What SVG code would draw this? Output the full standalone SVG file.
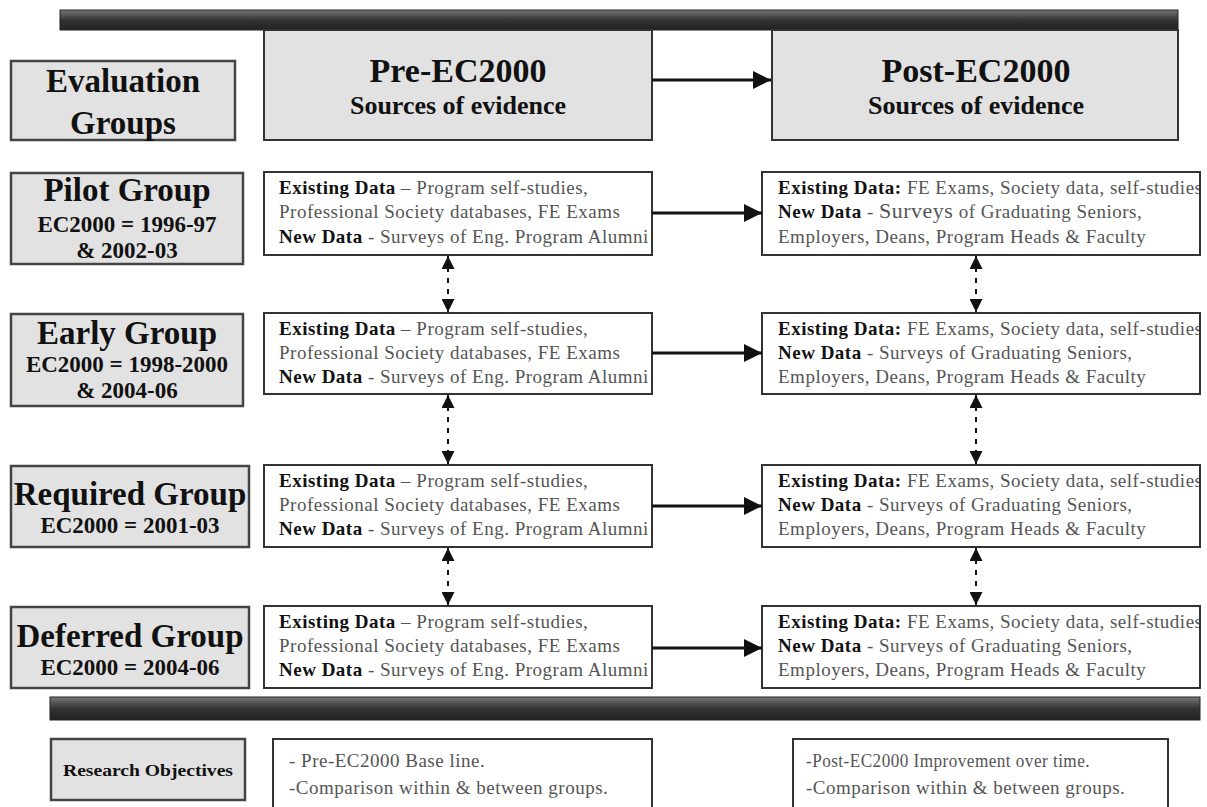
<svg xmlns="http://www.w3.org/2000/svg" width="1207" height="807" viewBox="0 0 1207 807">
<style>
.bar{fill:url(#barg);stroke:#222;stroke-width:1}
.hdr{fill:#e2e2e2;stroke:#333;stroke-width:2}
.grp{fill:#e2e2e2;stroke:#444;stroke-width:2.5}
.dat{fill:#fff;stroke:#333;stroke-width:2}
.t{font-family:"Liberation Serif","Times New Roman",serif;}
.b{font-weight:bold;fill:#111}
.r{fill:#555}
.ttl{font-size:34px;text-anchor:middle}
.sub{font-size:26px;text-anchor:middle}
.gt{font-size:33px;text-anchor:middle}
.gs{font-size:23px;text-anchor:middle}
.d{font-size:19px;letter-spacing:0.5px}
.o{font-size:19px;letter-spacing:0.5px}
.solid{stroke:#111;stroke-width:3;fill:none}
.dash{stroke:#111;stroke-width:2;fill:none;stroke-dasharray:5,6}
</style>
<defs>
<linearGradient id="barg" x1="0" y1="0" x2="0" y2="1">
<stop offset="0" stop-color="#777"/>
<stop offset="0.5" stop-color="#333"/>
<stop offset="1" stop-color="#222"/>
</linearGradient>
<marker id="ah" viewBox="0 0 10 10" refX="10" refY="5" markerWidth="7" markerHeight="6" markerUnits="strokeWidth" orient="auto">
<path d="M0,0 L10,5 L0,10 z" fill="#111"/>
</marker>
<marker id="sh" viewBox="0 0 10 10" refX="10" refY="5" markerWidth="6.5" markerHeight="6.5" markerUnits="strokeWidth" orient="auto-start-reverse">
<path d="M0,0 L10,5 L0,10 z" fill="#111"/>
</marker>
<clipPath id="cpre"><rect x="264" y="0" width="386" height="807"/></clipPath>
<clipPath id="cpost"><rect x="762" y="0" width="437" height="807"/></clipPath>
</defs>

<g id="bars">
<rect class="bar" x="60" y="10" width="1118" height="20"/>
<rect class="bar" x="50" y="697" width="1150" height="23"/>
</g>

<g id="hdr-eval">
<rect class="grp" x="11" y="61" width="224" height="79"/>
<text class="t b gt" x="123" y="92" font-size="31">Evaluation</text>
<text class="t b gt" x="123" y="134" font-size="31">Groups</text>
</g>
<g id="hdr-pre">
<rect class="hdr" x="264" y="30" width="388" height="110"/>
<text class="t b ttl" x="458" y="82">Pre-EC2000</text>
<text class="t b sub" x="458" y="114">Sources of evidence</text>
</g>
<g id="hdr-post">
<rect class="hdr" x="772" y="30" width="406" height="110"/>
<text class="t b ttl" x="976" y="82">Post-EC2000</text>
<text class="t b sub" x="976" y="114">Sources of evidence</text>
</g>

<g id="pilot">
<rect class="grp" x="11" y="173" width="232" height="91"/>
<text class="t b gt" x="127" y="201">Pilot Group</text>
<text class="t b gs" x="127" y="232">EC2000 = 1996-97</text>
<text class="t b gs" x="127" y="258">&amp; 2002-03</text>
</g>
<g id="early">
<rect class="grp" x="11" y="314" width="232" height="92"/>
<text class="t b gt" x="127" y="344">Early Group</text>
<text class="t b gs" x="127" y="372">EC2000 = 1998-2000</text>
<text class="t b gs" x="127" y="398">&amp; 2004-06</text>
</g>
<g id="required">
<rect class="grp" x="11" y="466" width="238" height="81"/>
<text class="t b gt" x="130" y="505">Required Group</text>
<text class="t b gs" x="130" y="533">EC2000 = 2001-03</text>
</g>
<g id="deferred">
<rect class="grp" x="11" y="607" width="238" height="81"/>
<text class="t b gt" x="130" y="647">Deferred Group</text>
<text class="t b gs" x="130" y="675">EC2000 = 2004-06</text>
</g>

<g id="pre1">
<rect class="dat" x="264" y="172" width="388" height="83"/>
<text class="t d" clip-path="url(#cpre)"><tspan x="279" y="194"><tspan class="b">Existing Data</tspan><tspan class="r"> – Program self-studies,</tspan></tspan><tspan class="r" x="279" y="218">Professional Society databases, FE Exams</tspan><tspan x="279" y="243"><tspan class="b">New Data</tspan><tspan class="r"> - Surveys of Eng. Program Alumni</tspan></tspan></text>
</g>
<g id="post1">
<rect class="dat" x="762" y="172" width="438" height="83"/>
<text class="t d" clip-path="url(#cpost)"><tspan x="778" y="194"><tspan class="b">Existing Data:</tspan><tspan class="r"> FE Exams, Society data, self-studies</tspan></tspan><tspan x="778" y="218"><tspan class="b">New Data</tspan><tspan class="r"> - <tspan font-size="22px">Surveys</tspan> of Graduating Seniors,</tspan></tspan><tspan class="r" x="778" y="243">Employers, Deans, Program Heads &amp; Faculty</tspan></text>
</g>

<g id="pre2">
<rect class="dat" x="264" y="313" width="388" height="81"/>
<text class="t d" clip-path="url(#cpre)"><tspan x="279" y="335"><tspan class="b">Existing Data</tspan><tspan class="r"> – Program self-studies,</tspan></tspan><tspan class="r" x="279" y="359">Professional Society databases, FE Exams</tspan><tspan x="279" y="383"><tspan class="b">New Data</tspan><tspan class="r"> - Surveys of Eng. Program Alumni</tspan></tspan></text>
</g>
<g id="post2">
<rect class="dat" x="762" y="313" width="438" height="81"/>
<text class="t d" clip-path="url(#cpost)"><tspan x="778" y="335"><tspan class="b">Existing Data:</tspan><tspan class="r"> FE Exams, Society data, self-studies</tspan></tspan><tspan x="778" y="359"><tspan class="b">New Data</tspan><tspan class="r"> - Surveys of Graduating Seniors,</tspan></tspan><tspan class="r" x="778" y="383">Employers, Deans, Program Heads &amp; Faculty</tspan></text>
</g>

<g id="pre3">
<rect class="dat" x="264" y="465" width="388" height="82"/>
<text class="t d" clip-path="url(#cpre)"><tspan x="279" y="487"><tspan class="b">Existing Data</tspan><tspan class="r"> – Program self-studies,</tspan></tspan><tspan class="r" x="279" y="511">Professional Society databases, FE Exams</tspan><tspan x="279" y="535"><tspan class="b">New Data</tspan><tspan class="r"> - Surveys of Eng. Program Alumni</tspan></tspan></text>
</g>
<g id="post3">
<rect class="dat" x="762" y="465" width="438" height="82"/>
<text class="t d" clip-path="url(#cpost)"><tspan x="778" y="487"><tspan class="b">Existing Data:</tspan><tspan class="r"> FE Exams, Society data, self-studies</tspan></tspan><tspan x="778" y="511"><tspan class="b">New Data</tspan><tspan class="r"> - Surveys of Graduating Seniors,</tspan></tspan><tspan class="r" x="778" y="535">Employers, Deans, Program Heads &amp; Faculty</tspan></text>
</g>

<g id="pre4">
<rect class="dat" x="264" y="606" width="388" height="82"/>
<text class="t d" clip-path="url(#cpre)"><tspan x="279" y="628"><tspan class="b">Existing Data</tspan><tspan class="r"> – Program self-studies,</tspan></tspan><tspan class="r" x="279" y="652">Professional Society databases, FE Exams</tspan><tspan x="279" y="676"><tspan class="b">New Data</tspan><tspan class="r"> - Surveys of Eng. Program Alumni</tspan></tspan></text>
</g>
<g id="post4">
<rect class="dat" x="762" y="606" width="438" height="82"/>
<text class="t d" clip-path="url(#cpost)"><tspan x="778" y="628"><tspan class="b">Existing Data:</tspan><tspan class="r"> FE Exams, Society data, self-studies</tspan></tspan><tspan x="778" y="652"><tspan class="b">New Data</tspan><tspan class="r"> - Surveys of Graduating Seniors,</tspan></tspan><tspan class="r" x="778" y="676">Employers, Deans, Program Heads &amp; Faculty</tspan></text>
</g>

<g id="research">
<rect class="grp" x="51" y="739" width="194" height="61"/>
<text class="t b" x="148" y="776" font-size="17" text-anchor="middle" textLength="170" lengthAdjust="spacingAndGlyphs">Research Objectives</text>
</g>
<g id="obj-pre">
<rect class="dat" x="273" y="739" width="379" height="75"/>
<text class="t r o"><tspan x="289" y="767">- Pre-EC2000 Base line.</tspan><tspan x="289" y="794">-Comparison within &amp; between groups.</tspan></text>
</g>
<g id="obj-post">
<rect class="dat" x="793" y="739" width="375" height="75"/>
<text class="t r o"><tspan x="806" y="767" textLength="284" lengthAdjust="spacingAndGlyphs">-Post-EC2000 Improvement over time.</tspan><tspan x="806" y="794">-Comparison within &amp; between groups.</tspan></text>
</g>

<g id="connectors">
<line class="solid" x1="652" y1="80" x2="771" y2="80" marker-end="url(#ah)"/>
<line class="solid" x1="652" y1="213" x2="762" y2="213" marker-end="url(#ah)"/>
<line class="solid" x1="652" y1="353" x2="762" y2="353" marker-end="url(#ah)"/>
<line class="solid" x1="652" y1="506" x2="762" y2="506" marker-end="url(#ah)"/>
<line class="solid" x1="652" y1="648" x2="762" y2="648" marker-end="url(#ah)"/>
<line class="dash" x1="448" y1="256" x2="448" y2="312" marker-start="url(#sh)" marker-end="url(#sh)"/>
<line class="dash" x1="448" y1="395" x2="448" y2="464" marker-start="url(#sh)" marker-end="url(#sh)"/>
<line class="dash" x1="448" y1="548" x2="448" y2="605" marker-start="url(#sh)" marker-end="url(#sh)"/>
<line class="dash" x1="976" y1="256" x2="976" y2="312" marker-start="url(#sh)" marker-end="url(#sh)"/>
<line class="dash" x1="976" y1="395" x2="976" y2="464" marker-start="url(#sh)" marker-end="url(#sh)"/>
<line class="dash" x1="976" y1="548" x2="976" y2="605" marker-start="url(#sh)" marker-end="url(#sh)"/>
</g>
</svg>
